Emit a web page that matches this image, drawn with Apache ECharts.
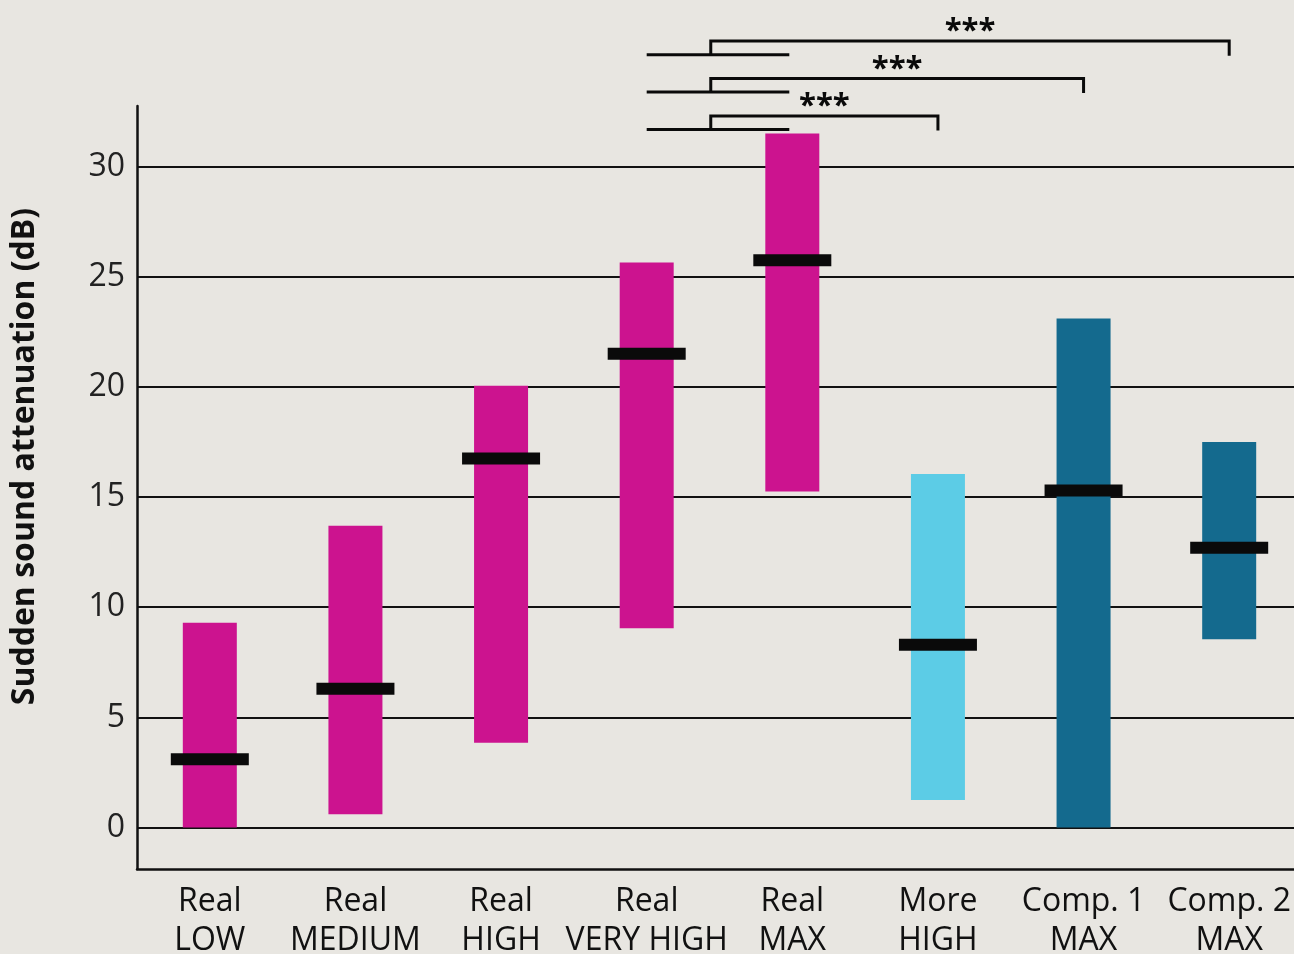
<!DOCTYPE html>
<html>
<head>
<meta charset="utf-8">
<script src="https://cdn.jsdelivr.net/npm/echarts@6/dist/echarts.min.js"></script>
<style>
  html, body { margin: 0; padding: 0; background: #e8e6e1; overflow: hidden; }
  /* the last category runs past the right edge of the page */
  #chart { width: 1320px; height: 954px; }
</style>
</head>
<body>
<div id="chart"></div>
<script>
// Conditions on the x axis
const categories = [
  'Real\nLOW', 'Real\nMEDIUM', 'Real\nHIGH', 'Real\nVERY HIGH', 'Real\nMAX',
  'More\nHIGH', 'Comp. 1\nMAX', 'Comp. 2\nMAX'
];
// Attenuation range (dB) and median per condition
const rangeLow  = [0.0, 0.6, 3.85, 9.05, 15.25, 1.25, 0.0, 8.55];
const rangeHigh = [9.3, 13.7, 20.05, 25.65, 31.5, 16.05, 23.1, 17.5];
const medians   = [3.1, 6.3, 16.75, 21.5, 25.75, 8.3, 15.3, 12.7];
// Device group of each condition (colour)
const groups = ['real', 'real', 'real', 'real', 'real', 'more', 'comp', 'comp'];
const groupColors = { real: '#cc138f', more: '#5ccce6', comp: '#146a8e' };

// Significance brackets: reference pair vs. target condition, bracket level (dB)
const sigFrom = 3;   // Real VERY HIGH
const sigTo = 4;     // Real MAX
const sigTargets = [7, 6, 5];
const sigLevels = [35.7, 34.0, 32.3];
const sigLabels = ['***', '***', '***'];

const yMin = -1.88, yMax = 32.75;
const yTicks = [0, 5, 10, 15, 20, 25, 30];

const chart = echarts.init(document.getElementById('chart'));

const rangeData = categories.map((c, i) => [i, rangeLow[i], rangeHigh[i], groups[i]]);
const medianData = categories.map((c, i) => [i, medians[i]]);
const sigData = sigTargets.map((t, i) => [sigFrom, sigTo, t, sigLevels[i], sigLabels[i]]);

chart.setOption({
  backgroundColor: '#e8e6e1',
  animation: false,
  grid: { left: 137, width: 1165, top: 106, bottom: 85, outerBoundsMode: 'none', containLabel: false },
  xAxis: {
    type: 'category',
    data: categories,
    axisLine: { onZero: false, lineStyle: { color: '#111', width: 2.5 } },
    axisTick: { show: false },
    axisLabel: {
      interval: 0, margin: 13,
      fontFamily: 'Open Sans', fontSize: 32, lineHeight: 39, color: '#111'
    }
  },
  yAxis: {
    type: 'value',
    min: yMin, max: yMax,
    splitNumber: 7,
    name: 'Sudden sound attenuation (dB)',
    nameLocation: 'middle',
    nameGap: 96,
    nameRotate: 90,
    nameTextStyle: {
      fontFamily: 'Open Sans', fontWeight: 'bold', fontSize: 32, color: '#111',
      padding: [0, 0, 0, 62]
    },
    axisLine: { show: true, lineStyle: { color: '#111', width: 2.5 } },
    axisTick: { show: false },
    axisLabel: {
      margin: 12,
      fontFamily: 'Open Sans', fontSize: 32, color: '#222',
      showMinLabel: false, showMaxLabel: false,
      formatter: v => (yTicks.indexOf(Math.round(v * 100) / 100) >= 0 ? String(v) : '')
    },
    splitLine: {
      show: true, showMinLine: false, showMaxLine: false,
      lineStyle: { color: '#111', width: 2 }
    }
  },
  series: [
    {
      type: 'custom',
      name: 'range',
      data: rangeData,
      encode: { x: 0, y: [1, 2] },
      renderItem: (params, api) => {
        const i = api.value(0);
        const top = api.coord([i, api.value(2)]);
        const bot = api.coord([i, api.value(1)]);
        const w = 54;
        return {
          type: 'rect',
          shape: { x: top[0] - w / 2, y: top[1], width: w, height: bot[1] - top[1] },
          style: { fill: groupColors[groups[i]] }
        };
      },
      z: 2
    },
    {
      type: 'custom',
      name: 'median',
      data: medianData,
      encode: { x: 0, y: 1 },
      renderItem: (params, api) => {
        const p = api.coord([api.value(0), api.value(1)]);
        const w = 78, h = 12;
        return {
          type: 'rect',
          shape: { x: p[0] - w / 2, y: p[1] - h / 2, width: w, height: h },
          style: { fill: '#0a0a0a' }
        };
      },
      z: 3
    },
    {
      type: 'custom',
      name: 'significance',
      data: sigData,
      clip: false,
      encode: { x: 2, y: 3 },
      renderItem: (params, api) => {
        const a = api.value(0), b = api.value(1), t = api.value(2), lvl = api.value(3);
        const drop = 0.62;
        const pa = api.coord([a, lvl - drop]);
        const pb = api.coord([b, lvl - drop]);
        const pTop = api.coord([t, lvl]);
        const pBase = api.coord([t, lvl - drop]);
        const startX = pa[0] + (pb[0] - pa[0]) * 0.44;
        const stroke = { stroke: '#0a0a0a', lineWidth: 3, fill: null };
        return {
          type: 'group',
          children: [
            { type: 'line', shape: { x1: pa[0], y1: pa[1], x2: pb[0] - 3, y2: pb[1] }, style: stroke },
            { type: 'polyline', shape: { points: [[startX, pa[1]], [startX, pTop[1]], [pTop[0], pTop[1]], [pTop[0], pBase[1] + 1]] }, style: stroke },
            {
              type: 'text',
              style: {
                text: sigLabels[params.dataIndex],
                x: (startX + pTop[0]) / 2, y: pTop[1] + 6,
                align: 'center', verticalAlign: 'bottom',
                font: 'bold 31px "Open Sans"', fill: '#0a0a0a'
              }
            }
          ]
        };
      },
      z: 4
    }
  ]
});
</script>
</body>
</html>
